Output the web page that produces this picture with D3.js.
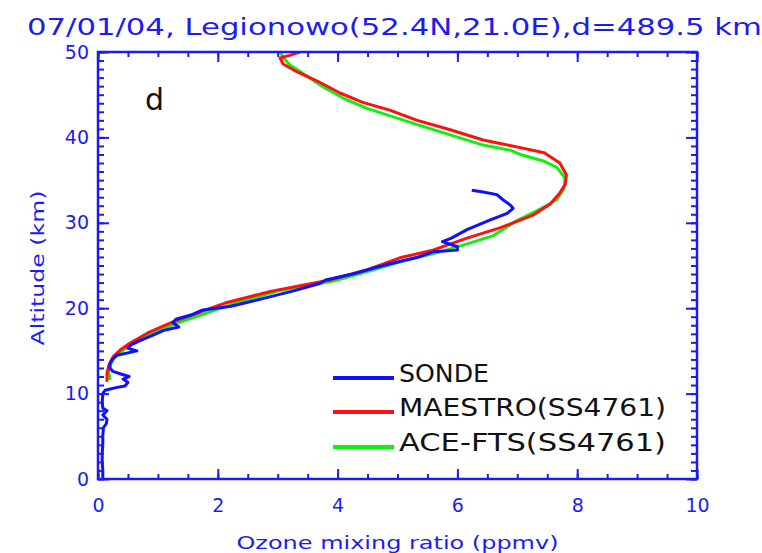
<!DOCTYPE html>
<html>
<head>
<meta charset="utf-8">
<script src="https://cdn.jsdelivr.net/npm/d3@7/dist/d3.min.js"></script>
<style>
  html, body { margin: 0; padding: 0; background: #fff; }
  svg { display: block; }
</style>
</head>
<body>
<svg id="chart" width="762" height="553"></svg>
<script>
// Ozone profiles: ozonesonde vs. MAESTRO and ACE-FTS occultation (SS4761)
const titleText = "07/01/04, Legionowo(52.4N,21.0E),d=489.5 km";
const panelLetter = "d";
const xTitle = "Ozone mixing ratio (ppmv)";
const yTitle = "Altitude (km)";

const xTicks = [0, 2, 4, 6, 8, 10];
const yTicks = [0, 10, 20, 30, 40, 50];

const seriesNames = ["SONDE", "MAESTRO(SS4761)", "ACE-FTS(SS4761)"];
const seriesColors = ["#1010ff", "#ff1010", "#10f010"];

// Sonde profile (altitude km, ozone ppmv)
const sondeAlt = [0, 1, 2, 3, 4, 5, 6, 6.5, 7, 7.5, 8, 8.3, 9, 10, 10.4, 10.7, 10.9, 11.3, 11.7, 12.0, 12.3, 12.6, 13.0, 13.5, 14.0, 14.5, 15.0, 15.3, 15.7, 16.2, 16.8, 17.4, 17.8, 18.3, 18.7, 19.2, 19.8, 20.2, 20.7, 21.3, 22.0, 22.9, 23.3, 24.0, 24.8, 25.5, 26.0, 26.6, 26.8, 27.2, 27.8, 28.2, 29.2, 30.3, 31.1, 31.7, 32.1, 32.7, 33.3, 33.6, 33.8];
const sondeO3  = [0.08, 0.08, 0.07, 0.07, 0.08, 0.08, 0.09, 0.14, 0.15, 0.08, 0.15, 0.08, 0.07, 0.08, 0.12, 0.3, 0.45, 0.5, 0.42, 0.52, 0.38, 0.25, 0.2, 0.2, 0.24, 0.32, 0.65, 0.5, 0.55, 0.7, 0.9, 1.1, 1.35, 1.25, 1.3, 1.55, 1.75, 2.2, 2.5, 2.85, 3.25, 3.7, 3.8, 4.25, 4.65, 5.05, 5.35, 5.6, 6.0, 6.0, 5.75, 5.9, 6.16, 6.54, 6.83, 6.93, 6.88, 6.76, 6.66, 6.43, 6.24];

// MAESTRO profile
const maestroAlt = [11.4, 12.4, 13.3, 14.3, 15.1, 15.9, 17.1, 18.4, 19.3, 19.8, 20.6, 22.0, 23.3, 24.5, 25.9, 26.8, 28.2, 29.4, 30.9, 32.2, 33.5, 34.5, 35.6, 37.0, 38.2, 38.8, 39.7, 40.9, 42.0, 43.2, 44.1, 45.2, 46.6, 47.8, 48.6, 49.3, 49.6, 50.0];
const maestroO3  = [0.15, 0.15, 0.18, 0.25, 0.37, 0.53, 0.83, 1.25, 1.62, 1.80, 2.12, 2.9, 3.87, 4.5, 5.04, 5.59, 6.16, 6.71, 7.26, 7.55, 7.71, 7.8, 7.82, 7.71, 7.45, 7.05, 6.43, 5.88, 5.33, 4.87, 4.42, 4.04, 3.66, 3.29, 3.09, 3.04, 3.2, 3.37];

// ACE-FTS profile
const aceAlt = [11.6, 12.5, 13.3, 14.3, 15.1, 16.0, 17.0, 18.3, 19.2, 20.5, 22.0, 23.2, 24.5, 25.4, 26.6, 27.5, 28.5, 30.3, 31.5, 32.7, 34.0, 35.2, 36.5, 37.2, 38.0, 38.5, 39.1, 40.3, 41.5, 43.4, 44.5, 45.9, 47.3, 48.5, 49.3, 50.0];
const aceO3  = [0.2, 0.18, 0.2, 0.28, 0.42, 0.6, 0.9, 1.33, 1.72, 2.25, 3.0, 3.95, 4.6, 5.04, 5.71, 6.15, 6.6, 7.0, 7.35, 7.66, 7.78, 7.8, 7.66, 7.45, 7.05, 6.88, 6.43, 5.88, 5.33, 4.49, 4.12, 3.76, 3.46, 3.2, 3.1, 3.04];

const axisColor = "#1c1cf2";
const fontFamily = "'DejaVu Sans', 'Liberation Sans', sans-serif";

const svg = d3.select("#chart");
const x = d3.scaleLinear().domain([0, 10]).range([98, 697]);
const y = d3.scaleLinear().domain([0, 50]).range([479, 52]);

const [x0, x1] = x.range();
const [y0, y1] = y.range();

svg.append("defs").append("clipPath").attr("id", "plotClip")
  .append("rect")
  .attr("x", x0).attr("y", y1)
  .attr("width", x1 - x0).attr("height", y0 - y1);

// Title
svg.append("text")
  .attr("x", 27).attr("y", 35)
  .attr("fill", axisColor)
  .attr("font-family", fontFamily)
  .attr("font-size", 23)
  .attr("textLength", 735)
  .attr("lengthAdjust", "spacingAndGlyphs")
  .text(titleText);

// Profiles
const seriesData = [
  d3.zip(sondeAlt, sondeO3),
  d3.zip(maestroAlt, maestroO3),
  d3.zip(aceAlt, aceO3)
];
const line = d3.line().x(d => x(d[1])).y(d => y(d[0]));
const curves = svg.append("g").attr("clip-path", "url(#plotClip)");
// ACE-FTS under MAESTRO, sonde on top
[2, 1, 0].forEach(i => {
  curves.append("path")
    .datum(seriesData[i])
    .attr("d", line)
    .attr("fill", "none")
    .attr("stroke", seriesColors[i])
    .attr("stroke-width", 3)
    .attr("stroke-linejoin", "round");
});

// Axes with minor and major inward ticks
function styleAxis(g) {
  g.select(".domain").remove();
  g.selectAll(".tick line").attr("stroke", axisColor).attr("stroke-width", 2);
  g.selectAll("text")
    .attr("fill", axisColor)
    .attr("font-family", fontFamily)
    .attr("font-size", 19);
}
const xMinor = d3.range(0, 10.01, 0.5);
const yMinor = d3.range(0, 50.01, 1);

svg.append("g").attr("transform", `translate(0,${y0})`)
  .call(d3.axisBottom(x).tickValues(xMinor).tickSizeInner(-5).tickSizeOuter(0).tickFormat(""))
  .call(styleAxis);
svg.append("g").attr("transform", `translate(0,${y0})`)
  .call(d3.axisBottom(x).tickValues(xTicks).tickSizeInner(-10).tickSizeOuter(0).tickPadding(20).tickFormat(d3.format("d")))
  .call(styleAxis);
svg.append("g").attr("transform", `translate(0,${y1})`)
  .call(d3.axisTop(x).tickValues(xMinor).tickSizeInner(-5).tickSizeOuter(0).tickFormat(""))
  .call(styleAxis);
svg.append("g").attr("transform", `translate(0,${y1})`)
  .call(d3.axisTop(x).tickValues(xTicks).tickSizeInner(-10).tickSizeOuter(0).tickFormat(""))
  .call(styleAxis);

svg.append("g").attr("transform", `translate(${x0},0)`)
  .call(d3.axisLeft(y).tickValues(yMinor).tickSizeInner(-6).tickSizeOuter(0).tickFormat(""))
  .call(styleAxis);
svg.append("g").attr("transform", `translate(${x0},0)`)
  .call(d3.axisLeft(y).tickValues(yTicks).tickSizeInner(-11).tickSizeOuter(0).tickPadding(9).tickFormat(d3.format("d")))
  .call(styleAxis);
svg.append("g").attr("transform", `translate(${x1},0)`)
  .call(d3.axisRight(y).tickValues(yMinor).tickSizeInner(-6).tickSizeOuter(0).tickFormat(""))
  .call(styleAxis);
svg.append("g").attr("transform", `translate(${x1},0)`)
  .call(d3.axisRight(y).tickValues(yTicks).tickSizeInner(-11).tickSizeOuter(0).tickFormat(""))
  .call(styleAxis);

// Frame
svg.append("rect")
  .attr("x", x0).attr("y", y1)
  .attr("width", x1 - x0).attr("height", y0 - y1)
  .attr("fill", "none")
  .attr("stroke", axisColor)
  .attr("stroke-width", 2.5);

// Axis titles
svg.append("text")
  .attr("x", (x0 + x1) / 2).attr("y", 549)
  .attr("text-anchor", "middle")
  .attr("fill", axisColor)
  .attr("font-family", fontFamily)
  .attr("font-size", 18)
  .attr("textLength", 322)
  .attr("lengthAdjust", "spacingAndGlyphs")
  .text(xTitle);
svg.append("text")
  .attr("transform", "translate(44,268) rotate(-90)")
  .attr("text-anchor", "middle")
  .attr("fill", axisColor)
  .attr("font-family", fontFamily)
  .attr("font-size", 18)
  .attr("textLength", 155)
  .attr("lengthAdjust", "spacingAndGlyphs")
  .text(yTitle);

// Panel letter
svg.append("text")
  .attr("x", 145).attr("y", 110)
  .attr("fill", "#111")
  .attr("font-family", fontFamily)
  .attr("font-size", 30)
  .text(panelLetter);

// Legend
const legendY = [378, 412, 447];
const legendTextLen = [90, 267, 267];
const legend = svg.append("g");
seriesNames.forEach((name, i) => {
  legend.append("line")
    .attr("x1", 333).attr("x2", 394)
    .attr("y1", legendY[i]).attr("y2", legendY[i])
    .attr("stroke", seriesColors[i])
    .attr("stroke-width", 4);
  legend.append("text")
    .attr("x", 399).attr("y", legendY[i] + 4)
    .attr("fill", "#111")
    .attr("font-family", fontFamily)
    .attr("font-size", 24)
    .attr("textLength", legendTextLen[i])
    .attr("lengthAdjust", "spacingAndGlyphs")
    .text(name);
});
</script>
</body>
</html>
